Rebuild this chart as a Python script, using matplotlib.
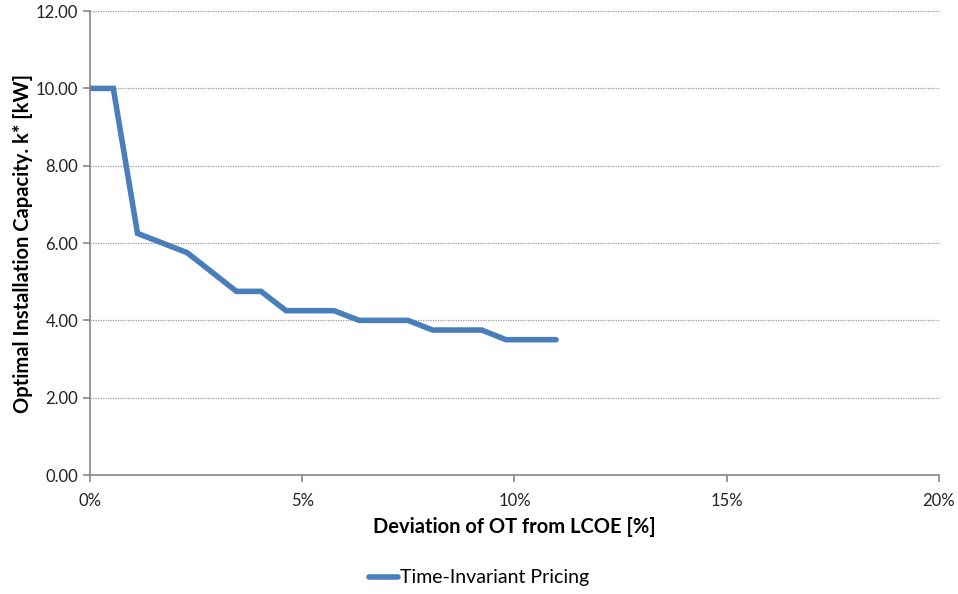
import matplotlib.pyplot as plt
from matplotlib.ticker import FuncFormatter, MultipleLocator

plt.rcParams['font.family'] = ['Lato', 'DejaVu Sans']

# deviation of OT from LCOE [%] and optimal capacity k* [kW]
deviation = [0.0, 0.55, 1.12, 2.29, 3.45, 4.03, 4.62, 5.75, 6.34, 7.49, 8.07, 9.23, 9.80, 10.98]
capacity = [10.0, 10.0, 6.25, 5.75, 4.75, 4.75, 4.25, 4.25, 4.0, 4.0, 3.75, 3.75, 3.5, 3.5]
series_name = "Time-Invariant Pricing"

fig = plt.figure(figsize=(9.58, 5.94), dpi=100)
ax = fig.add_axes([0.0939, 0.2003, 0.8862, 0.7811])

ax.plot(deviation, capacity, color='#4a7ebb', lw=4, solid_capstyle='round',
        solid_joinstyle='miter', label=series_name)

ax.set_xlim(0, 20)
ax.set_ylim(0, 12)
ax.xaxis.set_major_locator(MultipleLocator(5))
ax.yaxis.set_major_locator(MultipleLocator(2))
ax.xaxis.set_major_formatter(FuncFormatter(lambda v, p: f"{v:.0f}%"))
ax.yaxis.set_major_formatter(FuncFormatter(lambda v, p: f"{v:.2f}"))

ax.grid(axis='y', color='#999999', linestyle=(0, (1, 1)), lw=0.9)
ax.set_axisbelow(True)
for s in ['top', 'right']:
    ax.spines[s].set_visible(False)
for s in ['left', 'bottom']:
    ax.spines[s].set_color('#868686')
    ax.spines[s].set_linewidth(1.2)
ax.tick_params(colors='#868686', length=5, width=1.2, labelcolor='#222222', labelsize=12)
ax.tick_params(axis='x', pad=8)

ax.set_xlabel("Deviation of OT from LCOE [%]", fontsize=14.5, fontweight='bold', labelpad=6)
ax.set_ylabel("Optimal Installation Capacity. k* [kW]", fontsize=14.5, fontweight='bold', labelpad=2)

fig.legend(loc='center', bbox_to_anchor=(0.5, 1 - 578 / 594), frameon=False, fontsize=14,
           handlelength=1.45, handletextpad=0.1)

fig.savefig("out.png", dpi=100)
